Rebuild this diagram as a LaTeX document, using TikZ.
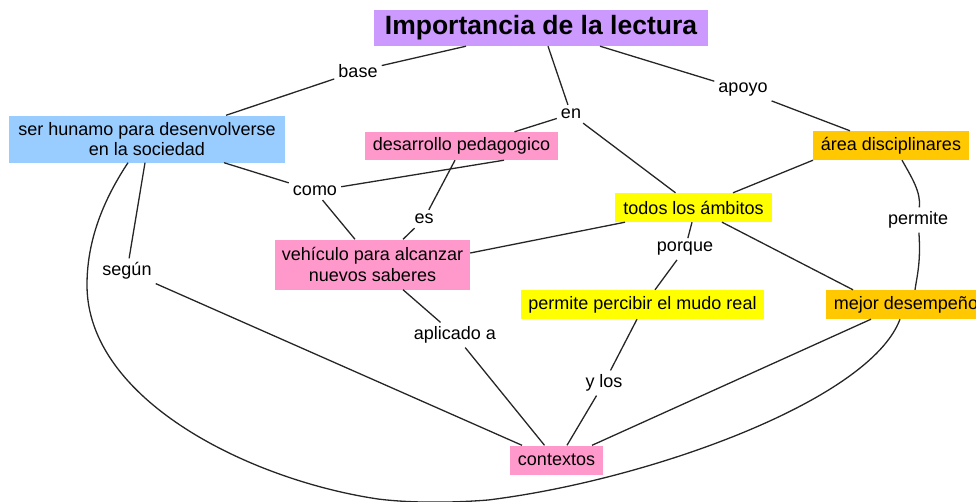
\documentclass[tikz,border=0pt]{standalone}
\usepackage{fontspec}
\setmainfont{Liberation Sans}
\definecolor{cpurple}{HTML}{CC99FF}
\definecolor{cblue}{HTML}{99CCFF}
\definecolor{cpink}{HTML}{FF99CC}
\definecolor{corange}{HTML}{FFC800}
\definecolor{cyellow}{HTML}{FFFF00}
\begin{document}
\begin{tikzpicture}[x=1pt,y=-1pt,
  box/.style={inner sep=0pt, align=center, font=\fontsize{18}{20.5}\selectfont},
  lbl/.style={inner sep=4pt, font=\fontsize{18}{20}\selectfont},
  conn/.style={draw=black!85, line width=1.3pt}]
\useasboundingbox (0,0) rectangle (976,501);
\clip (0,0) rectangle (976,501);
% concept boxes
\node[box, fill=cpurple, minimum width=334pt, minimum height=36pt, font=\bfseries\fontsize{26.5}{30}\selectfont] (title) at (541,28) {Importancia de la lectura};
\node[box, fill=cblue, minimum width=276pt, minimum height=47pt] (ser) at (147,139) {ser hunamo para desenvolverse\\en la sociedad};
\node[box, fill=cpink, minimum width=193pt, minimum height=28pt] (des) at (461.5,146) {desarrollo pedagogico};
\node[box, fill=corange, minimum width=156pt, minimum height=29pt] (area) at (891,145.5) {área disciplinares};
\node[box, fill=cyellow, minimum width=157pt, minimum height=29pt] (todos) at (693.5,207.5) {todos los ámbitos};
\node[box, fill=cpink, minimum width=195pt, minimum height=50pt] (veh) at (372.5,264.5) {vehículo para alcanzar\\nuevos saberes};
\node[box, fill=cyellow, minimum width=243pt, minimum height=29pt] (perm) at (642.5,304.5) {permite percibir el mudo real};
\node[box, fill=corange, minimum width=160pt, minimum height=29pt] (mejor) at (906,304.5) {mejor desempeño};
\node[box, fill=cpink, minimum width=93pt, minimum height=29pt] (ctx) at (556.5,460) {contextos};
% link labels
\node[lbl] (base) at (358,71) {base};
\node[lbl] (en) at (571,114) {en};
\node[lbl] (apoyo) at (743,90) {apoyo};
\node[lbl] (como) at (315,191) {como};
\node[lbl] (es) at (424,219) {es};
\node[lbl] (segun) at (127,271) {según};
\node[lbl] (porque) at (685,249) {porque};
\node[lbl] (permite) at (918,220) {permite};
\node[lbl] (aplic) at (455,335) {aplicado a};
\node[lbl] (ylos) at (604,383) {y los};
% connectors
\draw[conn] ([xshift=-75pt]title.south) -- (base) -- ([xshift=79pt]ser.north);
\draw[conn] ([xshift=7pt]title.south) -- (en);
\draw[conn] (en) -- ([xshift=53pt]des.north);
\draw[conn] (en) -- ([xshift=-18pt]todos.north);
\draw[conn] ([xshift=59pt]title.south) -- (apoyo) -- ([xshift=-41pt]area.north);
\draw[conn] ([xshift=77pt]ser.south) -- (como);
\draw[conn] ([xshift=42.5pt]des.south) -- (como);
\draw[conn] (como) -- ([xshift=-17.5pt]veh.north);
\draw[conn] ([xshift=-6.5pt]des.south) -- (es) -- ([xshift=30.5pt]veh.north);
\draw[conn] ([xshift=-68.5pt]todos.south) -- ([yshift=11.5pt]veh.east);
\draw[conn] ([xshift=-78pt]area.south) -- ([xshift=39.5pt]todos.north);
\draw[conn] ([xshift=-1.5pt]todos.south) -- (porque) -- ([xshift=12.5pt]perm.north);
\draw[conn] ([xshift=28.5pt]todos.south) -- ([xshift=-53pt]mejor.north);
\draw[conn] ([xshift=-2pt]ser.south) -- (segun) -- ([xshift=-34.5pt]ctx.north);
\draw[conn] ([xshift=30.5pt]veh.south) -- (aplic) -- ([xshift=-12pt]ctx.north);
\draw[conn] ([xshift=-5.5pt]perm.south) -- (ylos) -- ([xshift=10.5pt]ctx.north);
\draw[conn] ([xshift=-35pt]mejor.south) -- ([xshift=35.5pt]ctx.north);
\draw[conn] ([xshift=11pt]area.south) .. controls (912,178) and (921,192) .. (permite);
\draw[conn] (permite) .. controls (921,262) and (917,276) .. ([xshift=9pt]mejor.north);
\draw[conn] ([xshift=-19pt]ser.south) .. controls (100,205) and (87,245) .. (87,285)
  .. controls (87,400) and (250,480) .. (378,499)
  .. controls (410,503) and (450,503) .. (488,500)
  .. controls (650,480) and (870,400) .. ([xshift=-6pt]mejor.south);
\end{tikzpicture}
\end{document}
